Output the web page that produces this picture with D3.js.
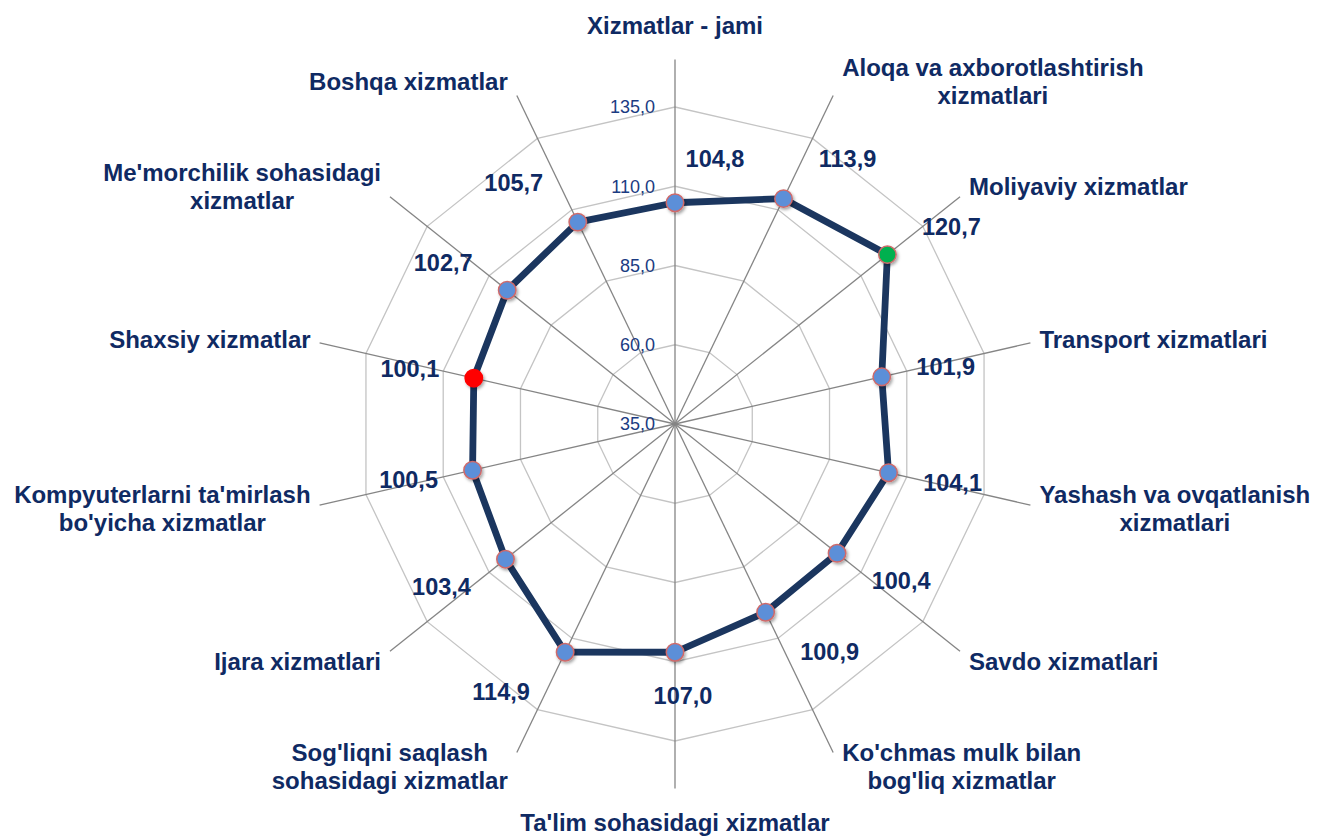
<!DOCTYPE html>
<html lang="en">
<head>
<meta charset="utf-8">
<title>Xizmatlar - radar</title>
<script src="https://d3js.org/d3.v7.min.js"></script>
<style>
body { margin: 0; background: #fff; font-family: "Liberation Sans", Arial, sans-serif; }
svg { display: block; }
.cat { font-size: 24px; font-weight: bold; fill: #0f2a63; }
.val { font-size: 23.5px; font-weight: bold; fill: #0f2a63; }
.tick { font-size: 18px; fill: #1b3b82; }
</style>
</head>
<body>
<script>
// categories clockwise from the top, "\n" marks a line break
var categories = [
    "Xizmatlar - jami",
    "Aloqa va axborotlashtirish\nxizmatlari",
    "Moliyaviy xizmatlar",
    "Transport xizmatlari",
    "Yashash va ovqatlanish\nxizmatlari",
    "Savdo xizmatlari",
    "Ko'chmas mulk bilan\nbog'liq xizmatlar",
    "Ta'lim sohasidagi xizmatlar",
    "Sog'liqni saqlash\nsohasidagi xizmatlar",
    "Ijara xizmatlari",
    "Kompyuterlarni ta'mirlash\nbo'yicha xizmatlar",
    "Shaxsiy xizmatlar",
    "Me'morchilik sohasidagi\nxizmatlar",
    "Boshqa xizmatlar"
];
var values = [104.8, 113.9, 120.7, 101.9, 104.1, 100.4, 100.9, 107.0, 114.9, 103.4, 100.5, 100.1, 102.7, 105.7];
var ticks = [35, 60, 85, 110, 135];

var width = 1317, height = 837;
var cx = 675, cy = 424;

var locale = d3.formatLocale({decimal: ",", thousands: " ", grouping: [3], currency: ["", ""]});
var fmt = locale.format(".1f");

var r = d3.scaleLinear().domain([35, 135]).range([0, 317]);
var axisEnd = r(150);
var angle = d3.scaleLinear().domain([0, categories.length]).range([0, 2 * Math.PI]);

function pt(i, rad) {
    var a = angle(i);
    return [cx + rad * Math.sin(a), cy - rad * Math.cos(a)];
}

var svg = d3.select("body").append("svg")
    .attr("width", width)
    .attr("height", height);

svg.append("rect").attr("width", width).attr("height", height).attr("fill", "#fff");

var defs = svg.append("defs");
var f = defs.append("filter").attr("id", "shadow")
    .attr("x", "-50%").attr("y", "-50%").attr("width", "200%").attr("height", "200%");
f.append("feDropShadow").attr("dx", 1.5).attr("dy", 2)
    .attr("stdDeviation", 1.5).attr("flood-color", "#000").attr("flood-opacity", 0.35);

// grid rings
svg.selectAll(".ring")
    .data(ticks.slice(1))
    .enter().append("polygon")
    .attr("class", "ring")
    .attr("points", function(t) {
        return categories.map(function(c, i) { return pt(i, r(t)).join(","); }).join(" ");
    })
    .attr("fill", "none")
    .attr("stroke", "#c4c4c4")
    .attr("stroke-width", 1.3);

// spokes
svg.selectAll(".spoke")
    .data(categories)
    .enter().append("line")
    .attr("class", "spoke")
    .attr("x1", cx).attr("y1", cy)
    .attr("x2", function(d, i) { return pt(i, axisEnd)[0]; })
    .attr("y2", function(d, i) { return pt(i, axisEnd)[1]; })
    .attr("stroke", "#858585")
    .attr("stroke-width", 1.3);

// tick labels on the vertical axis
svg.selectAll(".tick")
    .data(ticks)
    .enter().append("text")
    .attr("class", "tick")
    .attr("x", cx - 20)
    .attr("y", function(t) { return cy - r(t); })
    .attr("dy", "0.35em")
    .attr("text-anchor", "end")
    .text(function(t) { return fmt(t); });

// series line
var line = d3.line().curve(d3.curveLinearClosed);
svg.append("path")
    .attr("d", line(values.map(function(v, i) { return pt(i, r(v)); })))
    .attr("fill", "none")
    .attr("stroke", "#1b365f")
    .attr("stroke-width", 6.8)
    .attr("stroke-linejoin", "round");

var vmax = d3.max(values), vmin = d3.min(values);

svg.selectAll(".mark")
    .data(values)
    .enter().append("circle")
    .attr("class", "mark")
    .attr("cx", function(v, i) { return pt(i, r(v))[0]; })
    .attr("cy", function(v, i) { return pt(i, r(v))[1]; })
    .attr("r", 8.7)
    .attr("fill", function(v) { return v === vmax ? "#00b050" : v === vmin ? "#ff0000" : "#5b8fd8"; })
    .attr("stroke", function(v) { return v === vmin ? "#ff0000" : "#d06a6a"; })
    .attr("stroke-width", 1.5)
    .attr("filter", "url(#shadow)");

// value labels: mostly sideways from the point, a little outward
function labelOffset(i) {
    var a = angle(i), s = Math.sin(a), c = Math.cos(a);
    var dx = Math.abs(s) < 0.1 ? (c > 0 ? 40 : 8) : (s > 0 ? 64 : -64);
    return [dx, -c * 44];
}
svg.selectAll(".val")
    .data(values)
    .enter().append("text")
    .attr("class", "val")
    .attr("text-anchor", "middle")
    .attr("dy", "0.35em")
    .attr("x", function(v, i) { return pt(i, r(v))[0] + labelOffset(i)[0]; })
    .attr("y", function(v, i) { return pt(i, r(v))[1] + labelOffset(i)[1]; })
    .text(function(v) { return fmt(v); });

// category labels
categories.forEach(function(c, i) {
    var a = angle(i), sx = Math.sin(a), cy0 = -Math.cos(a);
    var end = pt(i, axisEnd);
    var lines = c.split("\n");
    var g = svg.append("text").attr("class", "cat").attr("text-anchor", "middle");
    var spans = lines.map(function(l) { return g.append("tspan").text(l); });
    var wmax = d3.max(spans, function(s) { return s.node().getComputedTextLength(); });
    var lineH = 28;
    var blockH = lines.length * lineH;
    var mx, my;
    if (Math.abs(sx) < 0.1) {
        mx = end[0];
        my = end[1] + cy0 * (20 + blockH / 2);
    } else {
        mx = sx > 0 ? end[0] + 9 + wmax / 2 : end[0] - 9 - wmax / 2;
        my = end[1] + cy0 * 16;
    }
    spans.forEach(function(s, k) {
        s.attr("x", mx)
         .attr("y", my + (k - (lines.length - 1) / 2) * lineH)
         .attr("dy", "0.35em");
    });
});
</script>
</body>
</html>
